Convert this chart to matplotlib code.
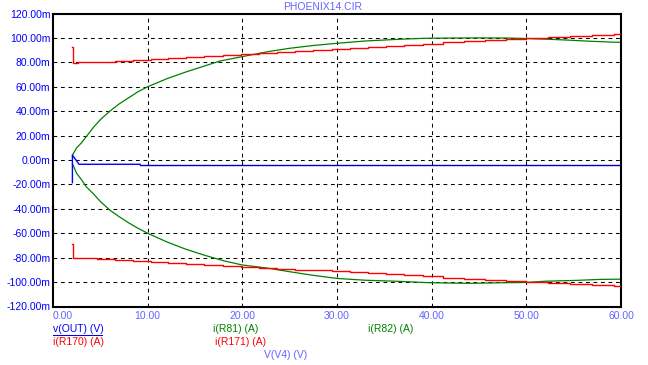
#!/usr/bin/env python3

import matplotlib

matplotlib.use("Agg")
import matplotlib.pyplot as plt
from matplotlib.lines import Line2D

plt.rcParams["font.family"] = ["Liberation Sans", "DejaVu Sans"]

# i(R170) / i(R171): red traces (step-drawn), x in V(V4) units, y in mA
red_x = [2.05, 2.06, 2.6, 4.6, 6.5, 8.4, 10.3, 12.2, 14.1, 16.0, 18.0, 19.9,
         21.8, 23.7, 25.6, 27.5, 29.5, 31.4, 33.3, 35.2, 37.1, 39.1, 41.2,
         43.4, 45.6, 47.8, 50.0, 52.3, 54.6, 56.9, 59.3, 60.0]
red_up = [92.6, 79.4, 80.0, 80.6, 81.3, 82.1, 82.9, 83.6, 84.4, 85.2, 86.0,
          86.8, 87.6, 88.4, 89.2, 90.3, 91.2, 92.0, 92.8, 93.6, 94.4, 95.4,
          96.3, 97.2, 98.1, 98.9, 99.7, 100.6, 101.5, 102.4, 103.3, 103.3]
red_lo = [-69.0, -80.2, -80.4, -81.0, -81.7, -82.5, -83.3, -84.1, -84.9,
          -85.7, -86.5, -87.3, -88.1, -88.9, -89.7, -90.5, -91.3, -92.1,
          -92.9, -93.7, -94.5, -95.4, -96.4, -97.3, -98.2, -99.1, -99.9,
          -100.8, -101.7, -102.6, -103.5, -103.5]

# i(R81) / i(R82): green traces
grn_up_x = [2.05, 2.5, 3.0, 3.6, 4.3, 5.0, 6.0, 7.0, 8.0, 9.0, 10.0, 12.0,
            14.0, 16.0, 17.6, 20.0, 22.9, 25.0, 27.5, 30.0, 33.0, 36.6, 39.3,
            42.0, 45.0, 48.0, 50.0, 52.0, 53.9, 56.7, 59.2, 60.0]
grn_up = [4, 10, 14, 20, 27, 33, 40, 46, 51, 56, 60, 66.5, 72, 77, 81, 84.7,
          89, 91.5, 93.8, 95.6, 97.5, 98.9, 99.7, 99.9, 100.0, 99.9, 99.5,
          99.0, 98.4, 97.3, 96.5, 96.4]
grn_lo_x = [2.05, 2.5, 3.0, 3.5, 4.3, 5.0, 6.0, 7.0, 8.0, 9.0, 10.0, 12.0,
            14.0, 16.0, 18.0, 20.0, 22.6, 25.0, 27.5, 30.0, 33.0, 36.6, 39.7,
            42.0, 44.2, 47.0, 50.0, 52.0, 55.3, 57.8, 60.0]
grn_lo = [-3, -11, -16, -21.8, -28, -34, -41, -46.5, -51.5, -56, -60, -67,
          -73, -78, -82.5, -86, -88.5, -91.5, -94.5, -97, -98.5, -99.4,
          -100.5, -100.8, -101, -100.6, -100.3, -99.3, -98.6, -97.8, -97.6]

# v(OUT): blue trace, then darker continuation
blue_x = [2.05, 2.05, 2.75, 9.2]
blue_y = [-18.6, 4.0, -3.5, -3.5]
navy_x = [9.2, 60.0]
navy_y = [-4.3, -4.3]

x_ticks = [0, 10, 20, 30, 40, 50, 60]
x_labels = ["0.00", "10.00", "20.00", "30.00", "40.00", "50.00", "60.00"]
y_ticks = [-120, -100, -80, -60, -40, -20, 0, 20, 40, 60, 80, 100, 120]
y_labels = ["-120.00m", "-100.00m", "-80.00m", "-60.00m", "-40.00m",
            "-20.00m", "0.00m", "20.00m", "40.00m", "60.00m", "80.00m",
            "100.00m", "120.00m"]

W, H = 648, 365
LIGHT = "#6464FF"

fig = plt.figure(figsize=(W / 100, H / 100), dpi=100)
ax = fig.add_axes([53 / W, 1 - 306.5 / H, (621 - 53) / W, (306.5 - 13.5) / H])

for x in x_ticks[1:-1]:
    ax.axvline(x, color="black", lw=0.75, ls=(0, (3.6, 3.6)), zorder=1)
for y in y_ticks[1:-1]:
    ax.axhline(y, color="black", lw=0.75, ls=(0, (3.6, 3.6)), zorder=1)

ax.plot(grn_up_x, grn_up, color="#008000", lw=0.9, zorder=2)
ax.plot(grn_lo_x, grn_lo, color="#008000", lw=0.9, zorder=2)
ax.plot(red_x, red_up, color="#FF0000", lw=1.0, drawstyle="steps-post", zorder=3)
ax.plot(red_x, red_lo, color="#FF0000", lw=1.0, drawstyle="steps-post", zorder=3)
ax.plot(blue_x, blue_y, color="#0000FF", lw=1.0, zorder=4)
ax.plot(navy_x, navy_y, color="#0000C8", lw=1.0, zorder=4)

ax.set_xlim(0, 60)
ax.set_ylim(-120, 120)
ax.set_xticks(x_ticks)
ax.set_xticklabels(x_labels, color=LIGHT, fontsize=7.5)
ax.set_yticks(y_ticks)
ax.set_yticklabels(y_labels, color="#0000FF", fontsize=7.5)
ax.tick_params(axis="both", length=0)
ax.tick_params(axis="x", pad=3.5)
ax.tick_params(axis="y", pad=2)
ax.get_xticklabels()[0].set_horizontalalignment("left")
for s in ax.spines.values():
    s.set_linewidth(1.5)
    s.set_color("black")

fig.text(323 / W, 1 - 7 / H, "PHOENIX14.CIR", color=LIGHT, fontsize=7.5,
         ha="center", va="center")

legend_items = [
    ("v(OUT) (V)", "#0000FF", 53, 329),
    ("i(R170) (A)", "#FF0000", 53, 342),
    ("i(R81) (A)", "#008000", 213, 329),
    ("i(R171) (A)", "#FF0000", 215, 342),
    ("i(R82) (A)", "#008000", 368, 329),
    ("V(V4) (V)", LIGHT, 264, 355),
]
for label, color, px, py in legend_items:
    fig.text(px / W, 1 - py / H, label, color=color, fontsize=7.5,
             ha="left", va="center")

# underline of the active trace label
fig.add_artist(Line2D([53 / W, 102 / W], [1 - 335 / H, 1 - 335 / H],
                      color="#0000FF", lw=0.75, transform=fig.transFigure))

fig.savefig("out.png", dpi=100)
